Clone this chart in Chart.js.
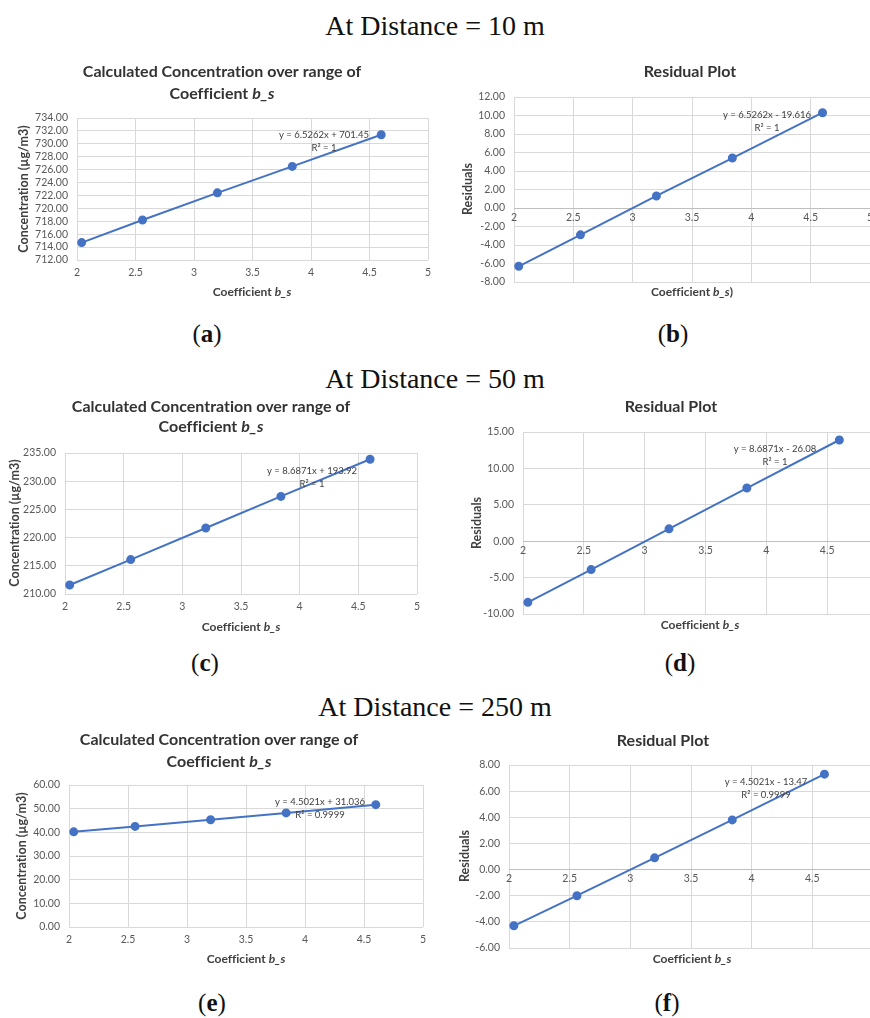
<!DOCTYPE html>
<html>
<head>
<meta charset="utf-8">
<script src="https://cdn.jsdelivr.net/npm/chart.js@4.4.1/dist/chart.umd.min.js"></script>
<style>
  html, body { margin: 0; padding: 0; background: #fff; overflow: hidden; }
  body { width: 870px; height: 1018px; position: relative; }
  .head { position: absolute; left: 0; width: 870px; text-align: center; font-family: "Liberation Serif", serif; font-size: 28px; line-height: 32px; color: #111; }
  .tag { position: absolute; width: 80px; text-align: center; font-family: "Liberation Serif", serif; font-size: 25px; line-height: 28px; color: #111; }
  canvas { position: absolute; }
</style>
</head>
<body>
<div class="head" style="top:10px">At Distance = 10 m</div>
<div class="head" style="top:363px">At Distance = 50 m</div>
<div class="head" style="top:691px">At Distance = 250 m</div>

<canvas id="cA" width="440" height="260" style="left:0;top:50px"></canvas>
<canvas id="cB" width="450" height="260" style="left:440px;top:50px"></canvas>
<canvas id="cC" width="440" height="260" style="left:0;top:385px"></canvas>
<canvas id="cD" width="460" height="260" style="left:440px;top:385px"></canvas>
<canvas id="cE" width="440" height="260" style="left:0;top:715px"></canvas>
<canvas id="cF" width="450" height="260" style="left:440px;top:715px"></canvas>

<div class="tag" style="left:167px;top:320px">(<b>a</b>)</div>
<div class="tag" style="left:633px;top:320px">(<b>b</b>)</div>
<div class="tag" style="left:165px;top:649px">(<b>c</b>)</div>
<div class="tag" style="left:640px;top:649px">(<b>d</b>)</div>
<div class="tag" style="left:172px;top:989px">(<b>e</b>)</div>
<div class="tag" style="left:627px;top:989px">(<b>f</b>)</div>

<script>
/********************
 * Data
 ********************/
// coefficient b_s, same for every panel
const bs = [2.04, 2.56, 3.2, 3.84, 4.6];

// distance = 10 m
const conc10  = [714.7, 718.2, 722.4, 726.5, 731.4];
const resid10 = [-6.3, -2.9, 1.3, 5.4, 10.3];
// distance = 50 m
const conc50  = [211.6, 216.1, 221.7, 227.3, 233.9];
const resid50 = [-8.4, -3.9, 1.7, 7.3, 13.9];
// distance = 250 m
const conc250  = [40.2, 42.5, 45.3, 48.2, 51.7];
const resid250 = [-4.3, -2.0, 0.9, 3.8, 7.3];

// axis ranges [min, max, step]
const xRange     = [2, 5, 0.5];
const yRangeA    = [712, 734, 2];
const yRangeB    = [-8, 12, 2];
const yRangeC    = [210, 235, 5];
const yRangeD    = [-10, 15, 5];
const yRangeE    = [0, 60, 10];
const yRangeF    = [-6, 8, 2];

// trendline labels
const eqA = ["y = 6.5262x + 701.45", "R\u00B2 = 1"];
const eqB = ["y = 6.5262x - 19.616", "R\u00B2 = 1"];
const eqC = ["y = 8.6871x + 193.92", "R\u00B2 = 1"];
const eqD = ["y = 8.6871x - 26.08", "R\u00B2 = 1"];
const eqE = ["y = 4.5021x + 31.036", "R\u00B2 = 0.9999"];
const eqF = ["y = 4.5021x - 13.47", "R\u00B2 = 0.9999"];

const FONT = "Lato, 'Open Sans', sans-serif";
const BLUE = "#4472C4";

const TITLE_CONC = [
  [{ t: "Calculated Concentration over range of" }],
  [{ t: "Coefficient " }, { t: "b_s", i: true }]
];
const TITLE_RESID = [[{ t: "Residual Plot" }]];
const XT  = [{ t: "Coefficient " }, { t: "b_s", i: true }];
const XTB = [{ t: "Coefficient " }, { t: "b_s", i: true }, { t: ")" }];

/********************
 * Panels: layout in canvas pixels
 ********************/
const panels = [
  { id: "cA", y: conc10, yr: yRangeA, eq: eqA, resid: false, title: TITLE_CONC, xTitle: XT, yTitle: "Concentration (\u00B5g/m3)",
    box: { l: 77, r: 428, t: 68, b: 210 }, titleX: 222, titleY: [22, 44], yTitlePos: [24, 139], xTitlePos: [252, 242], eqPos: [324, 85] },
  { id: "cB", y: resid10, yr: yRangeB, eq: eqB, resid: true, title: TITLE_RESID, xTitle: XTB, yTitle: "Residuals",
    box: { l: 74, r: 430, t: 47, b: 232 }, titleX: 250, titleY: [22], yTitlePos: [28, 139], xTitlePos: [252, 242], eqPos: [327, 65] },
  { id: "cC", y: conc50, yr: yRangeC, eq: eqC, resid: false, title: TITLE_CONC, xTitle: XT, yTitle: "Concentration (\u00B5g/m3)",
    box: { l: 65, r: 417, t: 68, b: 209 }, titleX: 211, titleY: [22, 42], yTitlePos: [15, 138], xTitlePos: [241, 242], eqPos: [312, 86] },
  { id: "cD", y: resid50, yr: yRangeD, eq: eqD, resid: true, title: TITLE_RESID, xTitle: XT, yTitle: "Residuals",
    box: { l: 83, r: 448, t: 47, b: 229 }, titleX: 231, titleY: [22], yTitlePos: [37, 138], xTitlePos: [260, 240], eqPos: [335, 64] },
  { id: "cE", y: conc250, yr: yRangeE, eq: eqE, resid: false, title: TITLE_CONC, xTitle: XT, yTitle: "Concentration (\u00B5g/m3)",
    box: { l: 69, r: 423, t: 70, b: 212 }, titleX: 219, titleY: [25, 47], yTitlePos: [22, 141], xTitlePos: [246, 244], eqPos: [320, 87] },
  { id: "cF", y: resid250, yr: yRangeF, eq: eqF, resid: true, title: TITLE_RESID, xTitle: XT, yTitle: "Residuals",
    box: { l: 69, r: 433, t: 50, b: 233 }, titleX: 223, titleY: [26], yTitlePos: [25, 141], xTitlePos: [252, 244], eqPos: [326, 67] }
];

/********************
 * Text helpers (bold with italic parts)
 ********************/
function drawRich(ctx, segs, cx, cy, size, color, rotate){
  ctx.save();
  ctx.translate(cx, cy);
  if(rotate) ctx.rotate(-Math.PI / 2);
  ctx.textRendering = "optimizeSpeed"; // no ti / fi ligatures
  const fontOf = s => (s.i ? "italic " : "") + "bold " + size + "px " + FONT;
  let total = 0;
  segs.forEach(s => { ctx.font = fontOf(s); total += ctx.measureText(s.t).width; });
  let x = -total / 2;
  ctx.textAlign = "left";
  ctx.textBaseline = "middle";
  ctx.fillStyle = color;
  segs.forEach(s => {
    ctx.font = fontOf(s);
    ctx.fillText(s.t, x, 0);
    x += ctx.measureText(s.t).width;
  });
  ctx.restore();
}

function makeDeco(p){
  return {
    id: "deco_" + p.id,
    afterDraw(chart){
      const ctx = chart.ctx;
      p.title.forEach((line, i) => drawRich(ctx, line, p.titleX, p.titleY[i], 16, "#333333", false));
      drawRich(ctx, p.xTitle, p.xTitlePos[0], p.xTitlePos[1], 12, "#404040", false);
      drawRich(ctx, [{ t: p.yTitle }], p.yTitlePos[0], p.yTitlePos[1], 12.5, "#404040", true);
      ctx.save();
      ctx.font = "9.5px " + FONT;
      ctx.fillStyle = "#404040";
      ctx.textAlign = "center";
      ctx.textBaseline = "middle";
      p.eq.forEach((s, i) => ctx.fillText(s, p.eqPos[0], p.eqPos[1] + i * 13));
      ctx.restore();
    }
  };
}

/********************
 * Charts
 ********************/
function renderPanel(p){
  const canvas = document.getElementById(p.id);
  const W = canvas.width, H = canvas.height;
  const tickFont = { family: FONT, size: 10.5 };

  const xScale = {
    type: "linear",
    min: xRange[0], max: xRange[1],
    ticks: { stepSize: xRange[2], autoSkip: false, maxRotation: 0, font: tickFont, color: "#595959", padding: 6, callback: v => String(v) },
    grid: { color: "#d9d9d9", drawTicks: false },
    border: { display: p.resid, color: "#bfbfbf" }
  };
  if(p.resid){
    xScale.position = { y: 0 };
    xScale.ticks.padding = 3;
  } else {
    xScale.position = "bottom";
    xScale.afterFit = s => { s.height = H - p.box.b; };
  }

  return new Chart(canvas.getContext("2d"), {
    type: "scatter",
    data: {
      datasets: [{
        data: bs.map((x, i) => ({ x, y: p.y[i] })),
        showLine: true,
        borderColor: BLUE,
        backgroundColor: BLUE,
        borderWidth: 2,
        pointRadius: 3.5,
        pointHoverRadius: 3.5
      }]
    },
    options: {
      responsive: false,
      animation: false,
      devicePixelRatio: 1,
      layout: { padding: { left: 0, top: p.box.t, right: W - p.box.r, bottom: p.resid ? H - p.box.b : 0 } },
      plugins: { legend: { display: false }, tooltip: { enabled: false }, title: { display: false } },
      scales: {
        x: xScale,
        y: {
          type: "linear",
          position: "left",
          min: p.yr[0], max: p.yr[1],
          ticks: { stepSize: p.yr[2], autoSkip: false, font: tickFont, color: "#595959", padding: 9, callback: v => v.toFixed(2) },
          grid: { color: "#d9d9d9", drawTicks: false },
          border: { display: false },
          afterFit: s => { s.width = p.box.l; }
        }
      }
    },
    plugins: [makeDeco(p)]
  });
}

panels.forEach(renderPanel);
</script>
</body>
</html>
